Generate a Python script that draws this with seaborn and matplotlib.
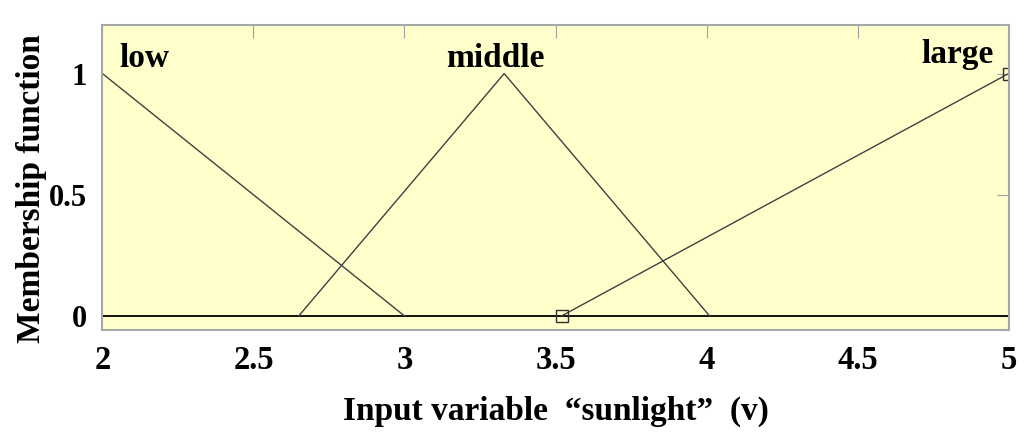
import numpy as np
import pandas as pd
import seaborn as sns
import matplotlib.pyplot as plt

# membership functions
low_x = [2.0, 3.0]
low_y = [1.0, 0.0]
middle_x = [2.65, 3.33, 4.01]
middle_y = [0.0, 1.0, 0.0]
large_x = [3.52, 5.0]
large_y = [0.0, 1.0]
mf_names = ["low", "middle", "large"]
label_pos = [(2.055, 1.025), (3.30, 1.025), (4.83, 1.045)]

x_ticks = [2, 2.5, 3, 3.5, 4, 4.5, 5]
y_ticks = [0, 0.5, 1]

sns.set_style("white")
plt.rcParams['font.family'] = ['Liberation Serif', 'DejaVu Serif']
plt.rcParams['font.weight'] = 'bold'
plt.rcParams['text.color'] = 'black'
plt.rcParams['axes.labelcolor'] = 'black'
plt.rcParams['xtick.labelcolor'] = 'black'
plt.rcParams['ytick.labelcolor'] = 'black'

fig = plt.figure(figsize=(10.24, 4.4), dpi=100)
ax = fig.add_axes([0.1, 0.25, 0.885, 0.693])
ax.set_facecolor("#ffffcc")

# baseline at zero across the whole range
ax.axhline(0, color="black", lw=1.3, zorder=2)

sns.lineplot(x=low_x, y=low_y, ax=ax, color="#404040", lw=1.0)
sns.lineplot(x=middle_x, y=middle_y, ax=ax, color="#404040", lw=1.0)
sns.lineplot(x=large_x, y=large_y, ax=ax, color="#404040", lw=1.0,
             marker="s", markersize=8, markerfacecolor="none",
             markeredgecolor="#303030", markeredgewidth=1.0)

for name, (tx, ty) in zip(mf_names, label_pos):
    ax.text(tx, ty, name, fontsize=24, fontweight="bold",
            ha="left" if name == "low" else "center", va="baseline")

ax.set_xlim(2, 5)
ax.set_ylim(-0.058, 1.20)
ax.set_xticks(x_ticks)
ax.set_xticklabels(["2", "2.5", "3", "3.5", "4", "4.5", "5"])
ax.set_yticks(y_ticks)
ax.set_yticklabels(["0", "0.5", "1"])
ax.tick_params(direction="in", length=9, color="#a0a0a0", top=True, right=True,
               labelsize=23.5, pad=11)
ax.tick_params(axis="y", labelsize=22, pad=11)
for s in ax.spines.values():
    s.set_color("#a8a8a8")
    s.set_linewidth(1.5)

ax.set_xlabel("Input variable  \u201csunlight\u201d  (v)", fontsize=24, fontweight="bold", labelpad=14)
ax.set_ylabel("Membership function", fontsize=24, fontweight="bold")
ax.yaxis.set_label_coords(-0.061, 0.465)

plt.savefig("out.png", dpi=100)
